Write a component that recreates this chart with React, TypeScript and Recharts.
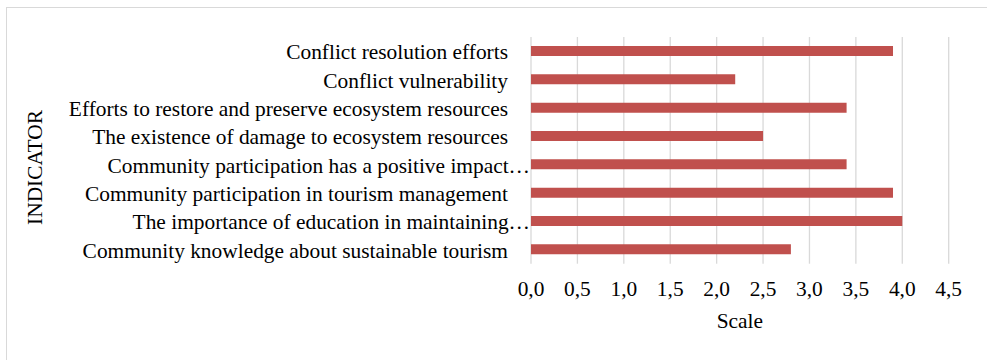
import React from 'react';
import { BarChart, Bar, XAxis, YAxis, CartesianGrid } from 'recharts';

// Indicators, listed top to bottom
const categories: string[] = [
  'Conflict resolution efforts',
  'Conflict vulnerability',
  'Efforts to restore and preserve ecosystem resources',
  'The existence of damage to ecosystem resources',
  'Community participation has a positive impact…',
  'Community participation in tourism management',
  'The importance of education in maintaining…',
  'Community knowledge about sustainable tourism',
];

// Mean score per indicator
const scores: number[] = [3.9, 2.2, 3.4, 2.5, 3.4, 3.9, 4.0, 2.8];

// Scale ticks
const scaleTicks: number[] = [0, 0.5, 1, 1.5, 2, 2.5, 3, 3.5, 4, 4.5];

const data = categories.map((name, i) => ({ name, value: scores[i] }));

const FONT = '"Liberation Serif", "Times New Roman", serif';
const FONT_SIZE = 21.4;

const fmt = (v: number) => v.toFixed(1).replace('.', ',');

const CategoryTick = (props: any) => {
  const { x, y, payload } = props;
  const label: string = payload.value;
  const truncated = label.endsWith('…');
  return (
    <text
      x={truncated ? x - 1 : x - 23}
      y={y}
      dy={8}
      textAnchor="end"
      fontFamily={FONT}
      fontSize={FONT_SIZE}
      fill="#000"
    >
      {label}
    </text>
  );
};

const ScaleTick = (props: any) => {
  const { x, y, payload } = props;
  return (
    <text
      x={x}
      y={y}
      dy={32}
      textAnchor="middle"
      fontFamily={FONT}
      fontSize={FONT_SIZE}
      fill="#000"
    >
      {fmt(payload.value)}
    </text>
  );
};

const ScaleTitle = (props: any) => {
  const vb = props.viewBox || {};
  return (
    <text
      x={vb.x + vb.width / 2}
      y={vb.y + 64}
      textAnchor="middle"
      fontFamily={FONT}
      fontSize={FONT_SIZE}
      fill="#000"
    >
      Scale
    </text>
  );
};

const IndicatorTitle = () => (
  <text
    x={42}
    y={167.5}
    transform="rotate(-90 42 167.5)"
    textAnchor="middle"
    fontFamily={FONT}
    fontSize={FONT_SIZE}
    fill="#000"
  >
    INDICATOR
  </text>
);

export default function App() {
  return (
    <div
      style={{
        position: 'absolute',
        left: 0,
        top: 0,
        width: 987,
        height: 360,
        overflow: 'hidden',
        background: '#fff',
      }}
    >
      <div
        style={{
          position: 'absolute',
          left: 6,
          top: 6.5,
          width: 1000,
          height: 400,
          border: '1.5px solid #d9d9d9',
          boxSizing: 'border-box',
        }}
      />
      <div style={{ position: 'absolute', left: 0, top: 0 }}>
        <BarChart
          width={987}
          height={360}
          data={data}
          layout="vertical"
          margin={{ top: 37, right: 38.3, bottom: 36.3, left: 0 }}
        >
          <CartesianGrid horizontal={false} stroke="#d9d9d9" strokeWidth={1.3} />
          <XAxis
            type="number"
            domain={[0, 4.5]}
            ticks={scaleTicks}
            axisLine={false}
            tickLine={false}
            tickSize={0}
            tickMargin={0}
            height={60}
            tick={<ScaleTick />}
            label={<ScaleTitle />}
          />
          <YAxis
            type="category"
            dataKey="name"
            width={531}
            axisLine={false}
            tickLine={false}
            tickSize={0}
            tickMargin={0}
            interval={0}
            tick={<CategoryTick />}
          />
          <Bar dataKey="value" fill="#C0504D" barSize={10} isAnimationActive={false} />
          <IndicatorTitle />
        </BarChart>
      </div>
    </div>
  );
}
